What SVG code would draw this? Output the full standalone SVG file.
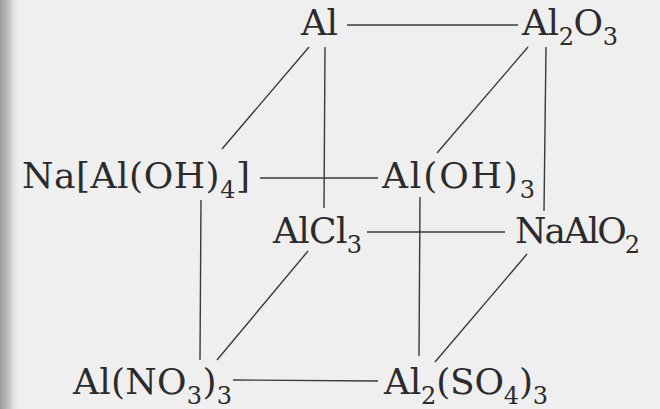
<svg xmlns="http://www.w3.org/2000/svg" width="660" height="409" viewBox="0 0 660 409">
<defs>
<linearGradient id="edge" x1="0" y1="0" x2="1" y2="0">
<stop offset="0" stop-color="#9a9a9a"/>
<stop offset="0.5" stop-color="#c8c8c8"/>
<stop offset="1" stop-color="#efefef" stop-opacity="0"/>
</linearGradient>
<style>
text{font-family:'DejaVu Serif','Liberation Serif',serif;font-size:36px;fill:#2b2b2b}
.s{font-size:24px}
.c line{stroke:#3a3a3a;stroke-width:1.4;fill:none}
</style>
</defs>
<rect width="660" height="409" fill="#efefef"/>
<rect x="0" y="0" width="20" height="409" fill="url(#edge)"/>
<g class="c" id="connectors">
<line x1="347" y1="25" x2="518" y2="25"/>
<line x1="260" y1="178" x2="378" y2="178"/>
<line x1="367" y1="232" x2="505" y2="232"/>
<line x1="233" y1="380" x2="378" y2="381"/>
<line x1="325" y1="47" x2="324" y2="208"/>
<line x1="546" y1="47" x2="544" y2="211"/>
<line x1="201" y1="200" x2="200" y2="360"/>
<line x1="420" y1="197" x2="419" y2="356"/>
<line x1="309" y1="47" x2="222" y2="149"/>
<line x1="528" y1="47" x2="437" y2="153"/>
<line x1="308" y1="251" x2="217" y2="360"/>
<line x1="527" y1="254" x2="435" y2="362"/>
</g>
<g id="n-al"><text x="301" y="35" textLength="37">Al</text></g>
<g id="n-al2o3"><text x="522" y="35" textLength="96">Al<tspan class="s" dy="10">2</tspan><tspan dy="-10">O</tspan><tspan class="s" dy="10">3</tspan></text></g>
<g id="n-naaloh4"><text x="22" y="188" textLength="228">Na[Al(OH)<tspan class="s" dy="10">4</tspan><tspan dy="-10">]</tspan></text></g>
<g id="n-aloh3"><text x="382" y="188" textLength="153">Al(OH)<tspan class="s" dy="10">3</tspan></text></g>
<g id="n-alcl3"><text x="273" y="243" textLength="89">AlCl<tspan class="s" dy="10">3</tspan></text></g>
<g id="n-naalo2"><text x="515" y="243" textLength="125">NaAlO<tspan class="s" dy="10">2</tspan></text></g>
<g id="n-alno33"><text x="73" y="394" textLength="159">Al(NO<tspan class="s" dy="10">3</tspan><tspan dy="-10">)</tspan><tspan class="s" dy="10">3</tspan></text></g>
<g id="n-al2so43"><text x="384" y="394" textLength="164">Al<tspan class="s" dy="10">2</tspan><tspan dy="-10">(SO</tspan><tspan class="s" dy="10">4</tspan><tspan dy="-10">)</tspan><tspan class="s" dy="10">3</tspan></text></g>
</svg>
